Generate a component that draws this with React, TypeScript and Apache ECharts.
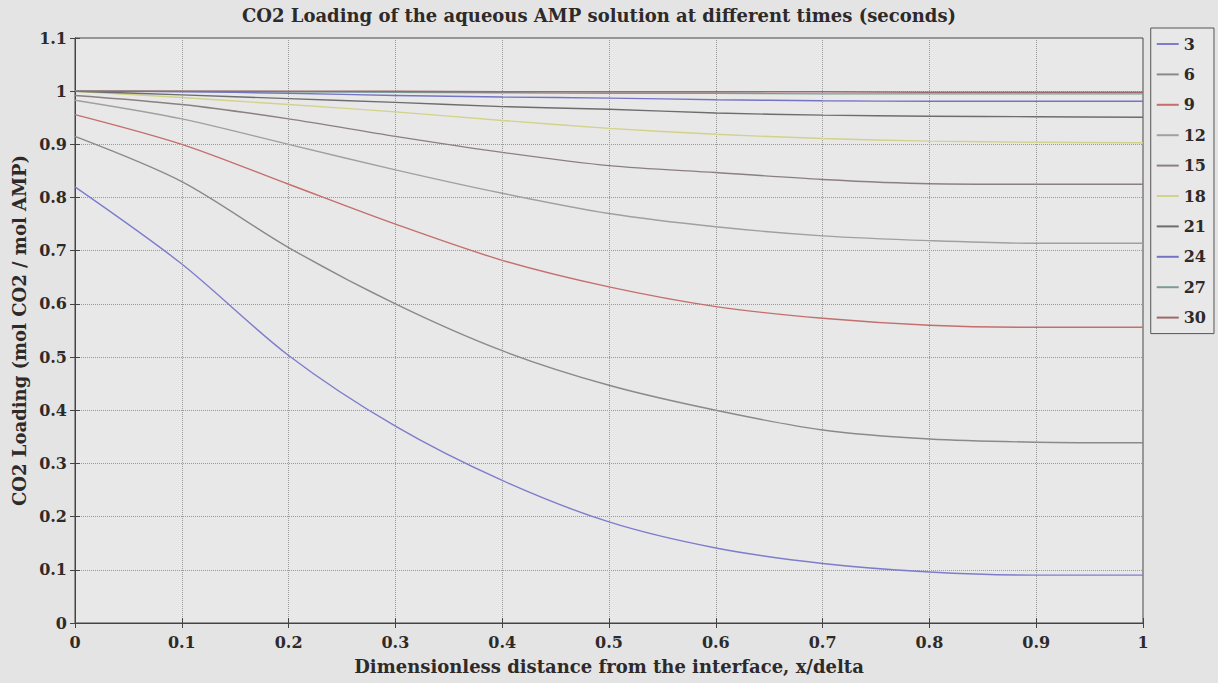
import React, { useEffect, useRef } from "react";
import * as echarts from "echarts";

const xValues = [0, 0.1, 0.2, 0.3, 0.4, 0.5, 0.6, 0.7, 0.8, 0.9, 1];
const seriesNames = ["3", "6", "9", "12", "15", "18", "21", "24", "27", "30"];
const s3 = [0.82, 0.675, 0.503, 0.37, 0.268, 0.19, 0.141, 0.112, 0.096, 0.09, 0.09];
const s6 = [0.915, 0.83, 0.706, 0.6, 0.512, 0.447, 0.4, 0.363, 0.346, 0.34, 0.339];
const s9 = [0.956, 0.9, 0.825, 0.75, 0.682, 0.632, 0.595, 0.573, 0.56, 0.556, 0.556];
const s12 = [0.983, 0.948, 0.9, 0.852, 0.808, 0.77, 0.745, 0.728, 0.719, 0.714, 0.714];
const s15 = [0.992, 0.975, 0.948, 0.915, 0.885, 0.86, 0.847, 0.834, 0.826, 0.825, 0.825];
const s18 = [1.0, 0.988, 0.975, 0.961, 0.945, 0.93, 0.919, 0.911, 0.906, 0.904, 0.903];
const s21 = [1.0, 0.993, 0.986, 0.979, 0.971, 0.966, 0.959, 0.955, 0.953, 0.952, 0.951];
const s24 = [1.0, 0.999, 0.996, 0.992, 0.989, 0.987, 0.984, 0.982, 0.981, 0.981, 0.981];
const s27 = [1.0, 1.0, 0.999, 0.998, 0.997, 0.996, 0.996, 0.995, 0.995, 0.995, 0.995];
const s30 = [1.0, 1.0, 1.0, 1.0, 0.999, 0.999, 0.999, 0.999, 0.998, 0.998, 0.998];
const allSeries = [s3, s6, s9, s12, s15, s18, s21, s24, s27, s30];
const colors = ["#7d7dcc", "#8a8a8a", "#c46e6e", "#a0a0a0", "#8c7f80", "#d2d28a", "#6d6d6d", "#7474c4", "#7f9999", "#9c6a6a"];

const FONT = "'DejaVu Serif', 'Liberation Serif', serif";

export default function App() {
  const ref = useRef<HTMLDivElement>(null);
  useEffect(() => {
    if (!ref.current) return;
    const chart = echarts.init(ref.current, null, { renderer: "svg" });
    const fmt = (v: number) => String(+v.toFixed(1));
    const labelStyle = { color: "#2e2a2a", fontFamily: FONT, fontWeight: "bold" as const, fontSize: 16 };
    chart.setOption({
      animation: false,
      backgroundColor: "#e4e4e4",
      title: {
        text: "CO2 Loading of the aqueous AMP solution at different times (seconds)",
        left: 594,
        textAlign: "center",
        top: 1,
        textStyle: { ...labelStyle, fontSize: 18 },
      },
      legend: {
        orient: "vertical",
        right: 4,
        top: 28,
        padding: [8, 8, 8, 5],
        itemWidth: 22,
        itemHeight: 14,
        itemGap: 14.4,
        borderColor: "#555",
        borderWidth: 1,
        backgroundColor: "#e8e8e8",
        itemStyle: { opacity: 0 },
        textStyle: { ...labelStyle, fontSize: 16 },
        data: seriesNames,
      },
      grid: {
        left: 75,
        right: 75,
        top: 38,
        bottom: 60,
        show: true,
        borderColor: "#444",
        borderWidth: 1,
        backgroundColor: "#e8e8e8",
      },
      xAxis: [
        {
          type: "value",
          min: 0,
          max: 1,
          interval: 0.1,
          name: "Dimensionless distance from the interface, x/delta",
          nameLocation: "middle",
          nameGap: 34,
          nameTextStyle: { ...labelStyle, fontSize: 18 },
          axisLabel: { ...labelStyle, margin: 11, formatter: fmt },
          axisLine: { show: true, lineStyle: { color: "#444" } },
          axisTick: { show: true, inside: true, length: 5, lineStyle: { color: "#444" } },
          splitLine: { show: true, lineStyle: { color: "#9a9a9a", type: "dotted", width: 1 } },
        },
        {
          type: "value",
          position: "top",
          min: 0,
          max: 1,
          interval: 0.1,
          axisLabel: { show: false },
          axisLine: { show: true, lineStyle: { color: "#444" } },
          axisTick: { show: true, inside: true, length: 5, lineStyle: { color: "#444" } },
          splitLine: { show: false },
        },
      ],
      yAxis: [
        {
          type: "value",
          min: 0,
          max: 1.1,
          interval: 0.1,
          name: "CO2 Loading (mol CO2 / mol AMP)",
          nameLocation: "middle",
          nameGap: 45,
          nameTextStyle: { ...labelStyle, fontSize: 18 },
          axisLabel: { ...labelStyle, margin: 8, formatter: fmt },
          axisLine: { show: true, lineStyle: { color: "#444" } },
          axisTick: { show: true, inside: true, length: 5, lineStyle: { color: "#444" } },
          splitLine: { show: true, lineStyle: { color: "#9a9a9a", type: "dotted", width: 1 } },
        },
        {
          type: "value",
          position: "right",
          min: 0,
          max: 1.1,
          interval: 0.1,
          axisLabel: { show: false },
          axisLine: { show: true, lineStyle: { color: "#444" } },
          axisTick: { show: true, inside: true, length: 5, lineStyle: { color: "#444" } },
          splitLine: { show: false },
        },
      ],
      series: seriesNames.map((name, i) => ({
        name,
        type: "line",
        xAxisIndex: 0,
        yAxisIndex: 0,
        symbol: "none",
        smooth: 0.3,
        color: colors[i],
        lineStyle: { color: colors[i], width: 1.4 },
        data: xValues.map((x, j) => [x, allSeries[i][j]]),
      })),
    });
    return () => chart.dispose();
  }, []);
  return (
    <div
      ref={ref}
      style={{ position: "absolute", left: 0, top: 0, width: 1218, height: 683 }}
    />
  );
}
